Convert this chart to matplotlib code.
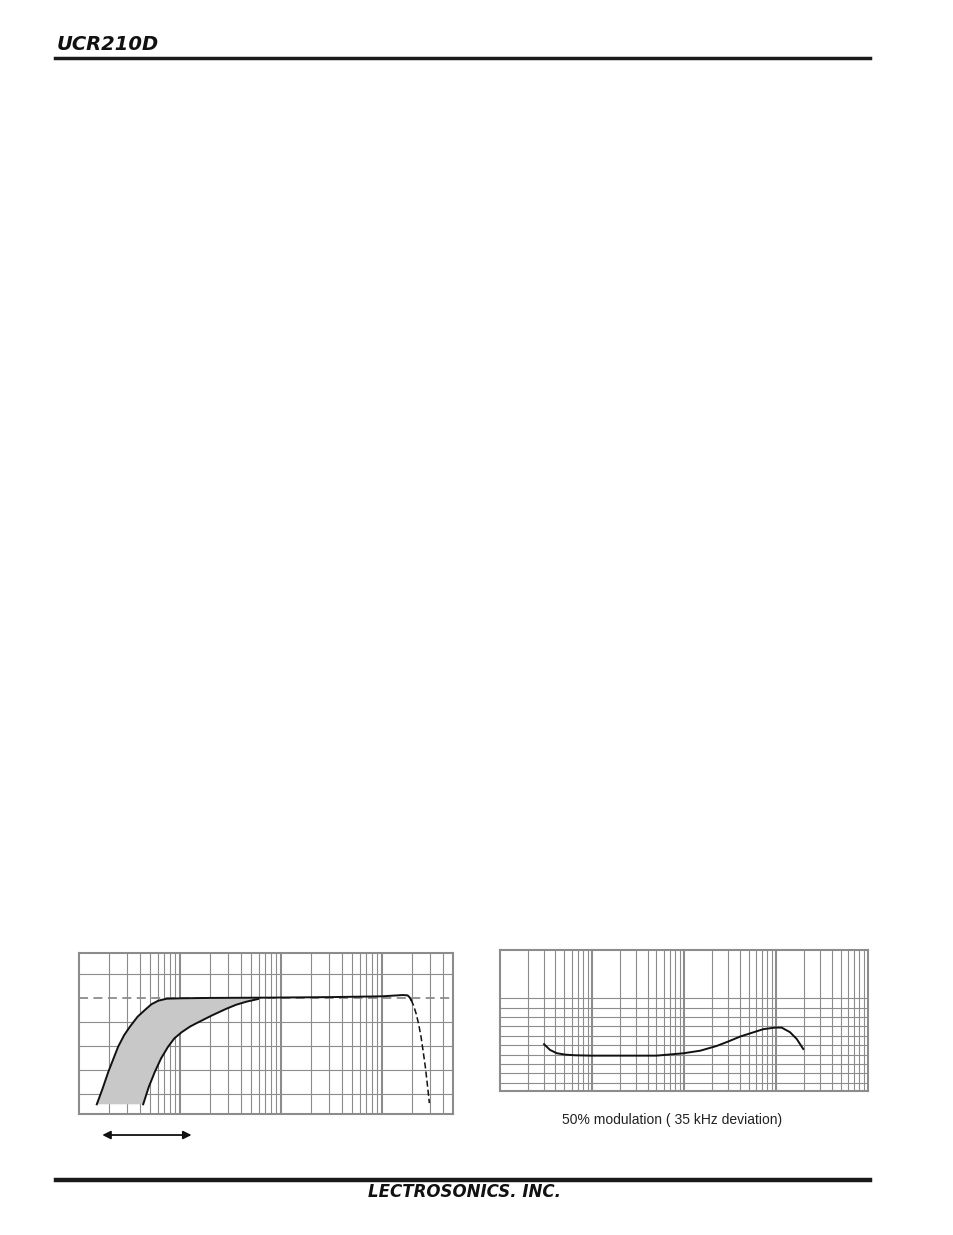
import matplotlib.pyplot as plt
import matplotlib.ticker as mticker
from matplotlib.lines import Line2D

# respuesta de frecuencia (grafico izquierdo), dB contra Hz
frec_alta = [15.0, 17.0, 19.5, 22.0, 24.4, 28.0, 31.9, 38.0, 44.9, 52.0, 60.8, 73.6,
             100, 200, 600, 1000, 3000, 10000, 16000, 17900, 18800, 19400]
db_alta = [-13.25, -11.4, -9.2, -7.5, -6.05, -4.6, -3.55, -2.3, -1.46, -0.75, -0.30, -0.05,
           0.0, 0.05, 0.08, 0.1, 0.15, 0.25, 0.41, 0.37, 0.1, -0.2]
frec_baja = [43.2, 49.0, 56.4, 65.0, 76.2, 88.0, 103.5, 125, 140, 157, 210, 288, 360, 454, 591]
db_baja = [-13.25, -11.1, -9.18, -7.5, -6.05, -5.0, -4.25, -3.55, -3.22, -2.9, -2.1, -1.3,
           -0.8, -0.42, -0.09]
frec_caida = [19400, 20500, 21700, 23000, 24300, 25500, 26800, 28100, 29400]
db_caida = [-0.2, -0.9, -1.88, -3.2, -4.8, -6.6, -8.55, -10.8, -13.1]
db_lineas = [3, -3, -6, -9, -12]
flecha_frec = [17, 130]

# distorsion (grafico derecho)
frec_thd = [30.1, 34.9, 41.3, 50.8, 65, 95, 200, 501, 977, 1500, 2250, 3000, 4040, 5500,
            7230, 9680, 11450, 14100, 16670, 19640]
thd = [4.10, 3.49, 3.14, 2.99, 2.92, 2.88, 2.88, 2.88, 3.13, 3.41, 3.91, 4.38, 4.91, 5.33,
       5.70, 5.87, 5.87, 5.38, 4.66, 3.59]
thd_lineas = list(range(10))

gris = "#8c8c8c"


def cuadricula(ax, lineas_y):
    # papel semilogaritmico sin etiquetas
    ax.set_xscale("log")
    ax.xaxis.set_major_locator(mticker.FixedLocator([100, 1000, 10000]))
    ax.xaxis.set_minor_locator(mticker.LogLocator(base=10, subs=range(2, 10), numticks=30))
    ax.yaxis.set_major_locator(mticker.FixedLocator(lineas_y))
    ax.yaxis.set_minor_locator(mticker.NullLocator())
    ax.tick_params(which="both", length=0, labelbottom=False, labelleft=False)
    ax.grid(which="major", axis="x", color=gris, lw=1.5)
    ax.grid(which="minor", axis="x", color=gris, lw=0.8)
    ax.grid(which="major", axis="y", color=gris, lw=0.8)
    ax.set_axisbelow(True)
    for s in ax.spines.values():
        s.set_color(gris)
        s.set_linewidth(1.5)


fig = plt.figure(figsize=(9.54, 12.35), dpi=100)

# grafico izquierdo
ax1 = fig.add_axes([0.0828, 0.0980, 0.3917, 0.1301])
cuadricula(ax1, db_lineas)
ax1.set_xlim(10, 50000)
ax1.set_ylim(-14.46, 5.63)
ax1.axhline(0, color=gris, ls="--", lw=1.3, dashes=(5, 3), zorder=1)
k = len([f for f in frec_alta if f <= 600])
ax1.fill(frec_alta[:k] + frec_baja[::-1], db_alta[:k] + db_baja[::-1],
         color="#c8c8c8", lw=0, zorder=2)
ax1.plot(frec_alta, db_alta, color="#111111", lw=1.4, zorder=3)
ax1.plot(frec_baja, db_baja, color="#111111", lw=1.4, zorder=3)
ax1.plot(frec_caida, db_caida, color="#111111", lw=1.1, ls="--", dashes=(4, 2), zorder=3)
ax1.annotate("", xy=(flecha_frec[1], -0.131), xytext=(flecha_frec[0], -0.131),
             xycoords=("data", "axes fraction"), annotation_clip=False,
             arrowprops=dict(arrowstyle="<|-|>", color="#111111", lw=1.3, mutation_scale=12,
                             shrinkA=0, shrinkB=0))

# grafico derecho
ax2 = fig.add_axes([0.5241, 0.1169, 0.3861, 0.1137])
cuadricula(ax2, thd_lineas)
ax2.set_xlim(10, 100000)
ax2.set_ylim(-0.85, 14.12)
ax2.plot(frec_thd, thd, color="#111111", lw=1.4, zorder=3)
fig.text(672 / 954, 1 - 1120 / 1235, "50% modulation ( 35 kHz deviation)", ha="center",
         va="center", fontsize=10, family="Liberation Sans", color="#222222")

# encabezado y pie de pagina
fig.text(57 / 954, 1 - 50 / 1235, "UCR210D", fontsize=14, fontweight="bold", style="italic",
         va="baseline", color="#111111")
fig.add_artist(Line2D([55 / 954, 870 / 954], [1 - 58 / 1235] * 2, color="#1a1a1a", lw=2.5,
                      transform=fig.transFigure))
fig.add_artist(Line2D([56 / 954, 870 / 954], [1 - 1179.5 / 1235] * 2, color="#1a1a1a", lw=3.2,
                      transform=fig.transFigure))
fig.text(465 / 954, 1 - 1197 / 1235, "LECTROSONICS. INC.", ha="center", va="baseline",
         fontsize=12, fontweight="bold", style="italic", color="#111111")

fig.savefig("out.png", dpi=100)
